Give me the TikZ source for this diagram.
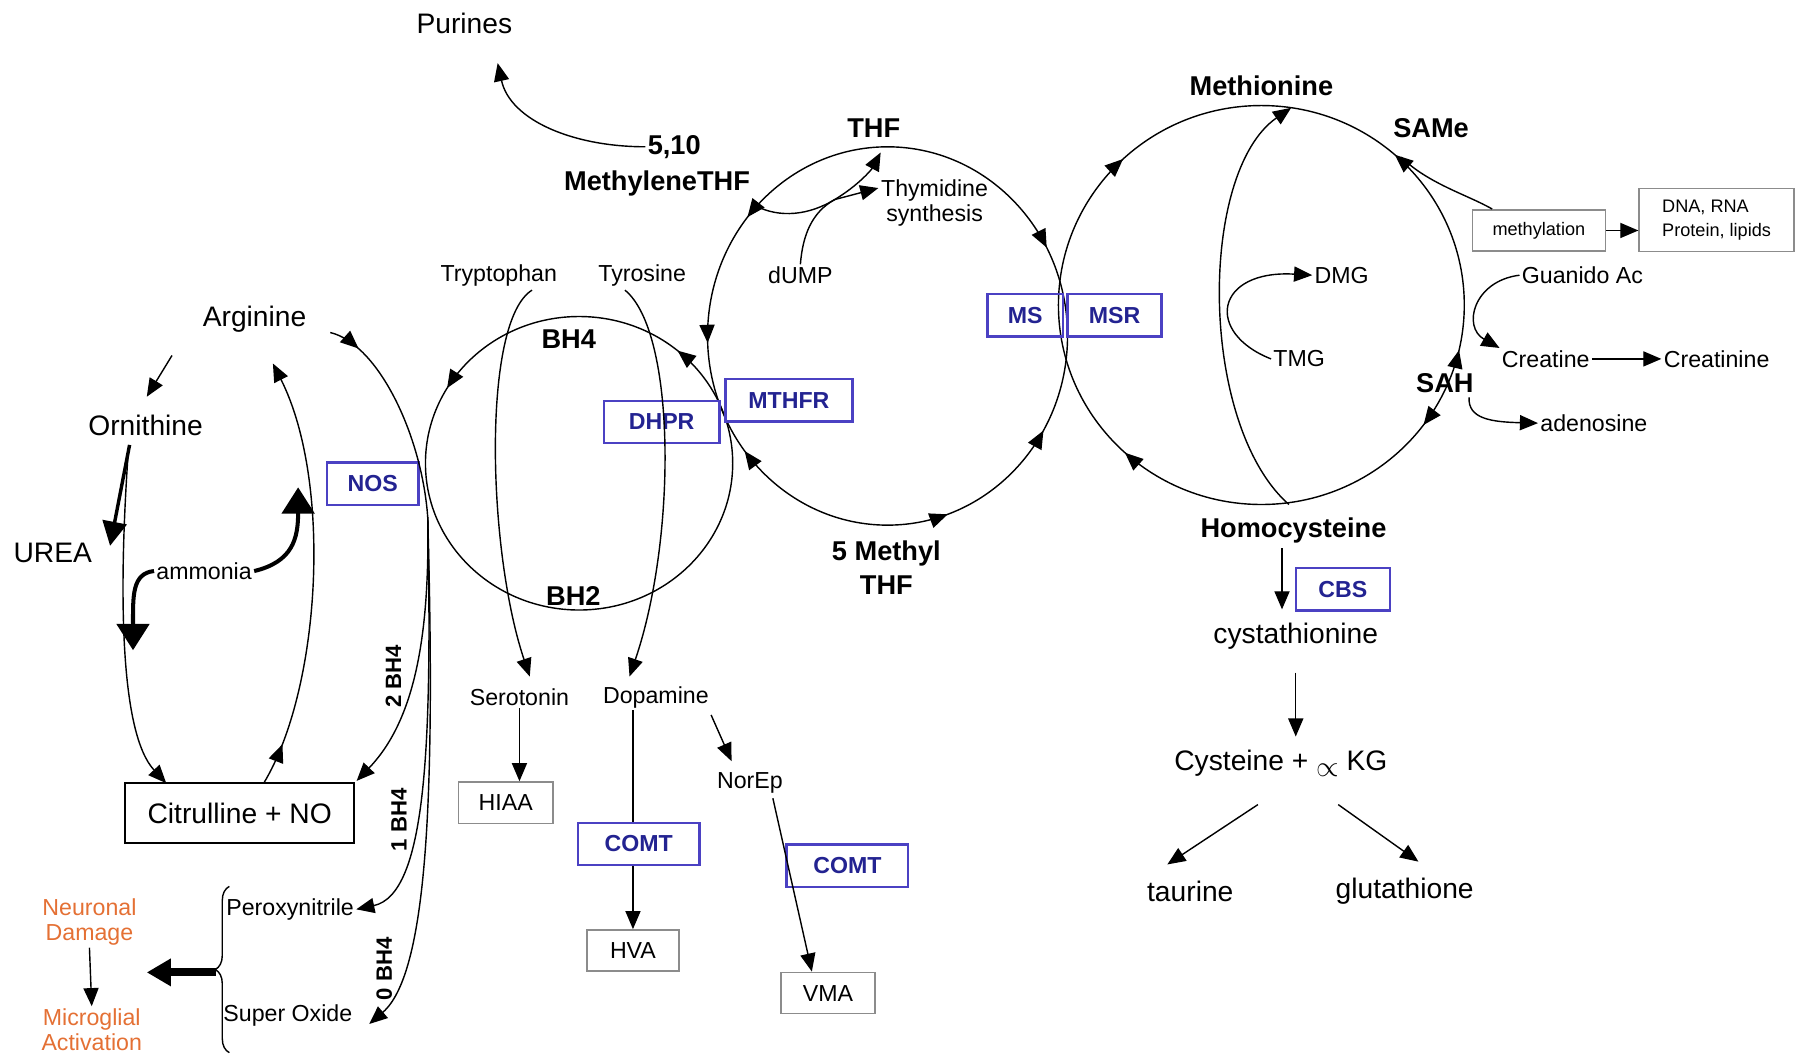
\documentclass[tikz,border=0pt]{standalone}
\usepackage{fontspec}
\setmainfont{Liberation Sans}
\usetikzlibrary{arrows.meta,positioning,calc,decorations.markings,decorations.pathreplacing}

\definecolor{enzblue}{RGB}{75,65,195}
\definecolor{enztext}{RGB}{35,35,145}
\definecolor{harmorange}{RGB}{228,112,52}
\definecolor{boxgray}{RGB}{140,140,140}

\tikzset{
  ctip/.tip={Triangle[length=9pt,width=7.5pt]},
  btip/.tip={Triangle[length=13pt,width=16pt]},
  flow/.style={line width=0.7pt,-ctip},
  thickflow/.style={line width=2pt,-btip},
  ring/.style={line width=0.7pt,postaction={decorate}},
  big/.style={font=\fontsize{14}{17}\selectfont,inner sep=1pt},
  med/.style={font=\fontsize{11.5}{12.5}\selectfont,inner sep=1pt,align=center},
  heavy/.style={font=\fontsize{13.5}{17}\selectfont\bfseries,inner sep=1pt,align=center},
  bhlabel/.style={font=\fontsize{11}{12}\selectfont\bfseries,inner sep=1pt,rotate=90},
  enzyme/.style={draw=enzblue,line width=1.2pt,text=enztext,font=\fontsize{11.5}{13}\selectfont\bfseries,minimum height=0.74cm,inner sep=0pt},
  prodbox/.style={draw=boxgray,line width=0.8pt,font=\fontsize{11.5}{13}\selectfont,minimum height=0.72cm,inner sep=0pt},
  harm/.style={med,text=harmorange},
}

\begin{document}
\begin{tikzpicture}[x=0.02cm,y=-0.02cm]
\useasboundingbox (0,0) rectangle (1568,922);

% the three cycles
\draw[ring,decoration={markings,
  mark=at position 0.079 with {\arrowreversed{ctip}},
  mark=at position 0.390 with {\arrow{ctip}},
  mark=at position 0.506 with {\arrow{ctip}},
  mark=at position 0.606 with {\arrowreversed{ctip}},
  mark=at position 0.803 with {\arrow{ctip}},
  mark=at position 0.915 with {\arrow{ctip}}}]
  (774,293) ellipse [x radius=3.14cm,y radius=3.3cm];
\draw[ring,decoration={markings,
  mark=at position 0.1375 with {\arrow{ctip}},
  mark=at position 0.416 with {\arrow{ctip}}}]
  (505,404) ellipse [x radius=2.68cm,y radius=2.56cm];
\draw[ring,decoration={markings,
  mark=at position 0.135 with {\arrow{ctip}},
  mark=at position 0.370 with {\arrowreversed{ctip}},
  mark=at position 0.632 with {\arrowreversed{ctip}},
  mark=at position 0.898 with {\arrowreversed{ctip}},
  mark=at position 0.964 with {\arrow{ctip}}}]
  (1100,266) ellipse [x radius=3.54cm,y radius=3.48cm];

\node[big] (purines) at (405,20) {Purines};
\node[heavy] (fiveten) at (588,128) {5,10};
\node[heavy] (methylene) at (573,160) {MethyleneTHF};
\node[heavy] (thf) at (762,112) {THF};
\node[med] (thymidine) at (815,177) {Thymidine\\synthesis};
\node[med] (dump) at (698,240) {dUMP};
\node[med] (tryptophan) at (435,240) {Tryptophan};
\node[med] (tyrosine) at (560,240) {Tyrosine};
\node[big] (arginine) at (222,278) {Arginine};
\node[big] (ornithine) at (127,371) {Ornithine};
\node[big] (urea) at (46,482) {UREA};
\node[med] (ammonia) at (178,498) {ammonia};
\node[heavy] (bhfour) at (496,296) {BH4};
\node[heavy] (bhtwo) at (500,520) {BH2};
\node[heavy] (methylthf) at (773,495) {5 Methyl\\THF};
\node[med] (serotonin) at (453,608) {Serotonin};
\node[med] (dopamine) at (572,608) {Dopamine};
\node[med] (norep) at (654,683) {NorEp};
\node[med] (peroxy) at (253,793) {Peroxynitrile};
\node[med] (superox) at (251,886) {Super Oxide};
\node[harm] (neuronal) at (78,804) {Neuronal\\Damage};
\node[harm] (microglial) at (80,898) {Microglial\\Activation};
\node[heavy] (methionine) at (1100,75) {Methionine};
\node[heavy] (same) at (1248,112) {SAMe};
\node[med] (dmg) at (1170,240) {DMG};
\node[med] (guanido) at (1380,240) {Guanido Ac};
\node[med] (tmg) at (1133,313) {TMG};
\node[med] (creatine) at (1348,313) {Creatine};
\node[med] (creatinine) at (1497,313) {Creatinine};
\node[heavy] (sah) at (1260,334) {SAH};
\node[med] (adenosine) at (1390,369) {adenosine};
\node[heavy] (homocys) at (1128,463) {Homocysteine};
\node[big] (cystathionine) at (1130,555) {cystathionine};
\node[big] (cysteine) at (1117,666) {Cysteine + \raisebox{-3pt}{$\propto$} KG};
\node[big] (taurine) at (1038,777) {taurine};
\node[big] (glutathione) at (1225,777) {glutathione};
\node[bhlabel] (twobh) at (343,590) {2 BH4};
\node[bhlabel] (onebh) at (348,715) {1 BH4};
\node[bhlabel] (zerobh) at (335,845) {0 BH4};

\node[enzyme,minimum width=1.6cm] (nos) at (325,422) {NOS};
\node[enzyme,minimum width=2.02cm] (dhpr) at (577,368) {DHPR};
\node[enzyme,minimum width=2.22cm] (mthfr) at (688,349) {MTHFR};
\node[enzyme,minimum width=1.32cm] (ms) at (894,275) {MS};
\node[enzyme,minimum width=1.64cm] (msr) at (972,275) {MSR};
\node[enzyme,minimum width=1.64cm] (cbs) at (1171,514) {CBS};
\node[enzyme,minimum width=2.12cm] (comtdop) at (557,736) {COMT};
\node[enzyme,minimum width=2.12cm] (comtnor) at (739,755) {COMT};
\node[prodbox,minimum width=1.64cm] (hiaa) at (441,700) {HIAA};
\node[prodbox,minimum width=1.6cm] (hva) at (552,829) {HVA};
\node[prodbox,minimum width=1.64cm] (vma) at (722,866) {VMA};
\node[prodbox,font=\fontsize{9}{12}\selectfont,minimum width=2.32cm] (methylation) at (1342,201) {methylation};
\node[prodbox,font=\fontsize{9}{12}\selectfont,align=left,minimum width=2.7cm,minimum height=1.1cm] (dnarna) at (1497,192) {DNA, RNA\\Protein, lipids};
\node[draw,line width=0.9pt,big,minimum width=4cm,minimum height=1.04cm] (citno) at (209,709) {Citrulline + NO};

\coordinate (purtip) at (434,55);
\coordinate (mtstart) at (660,180);
\coordinate (thyjoin) at (728,174);
\coordinate (thftip) at (768,133);
\coordinate (thytip) at (766,164);
\coordinate (trpstart) at (464,253);
\coordinate (tyrstart) at (545,253);
\coordinate (serotip) at (462,590);
\coordinate (dopatip) at (549,590);
\coordinate (argleft) at (150,310);
\coordinate (orntip) at (128,346);
\coordinate (ornfoot) at (113,388);
\coordinate (ureatip) at (96,476);
\coordinate (ornthin) at (112,392);
\coordinate (citleft) at (145,683);
\coordinate (citmid) at (230,683);
\coordinate (argtip) at (238,317);
\coordinate (ammdown) at (116,567);
\coordinate (ammup) at (260,425);
\coordinate (argright) at (288,290);
\coordinate (nosjoin) at (373,451);
\coordinate (citcorner) at (311,681);
\coordinate (supertip) at (322,893);
\coordinate (brtop) at (200,773);
\coordinate (brbot) at (200,918);
\coordinate (brtip) at (188,848);
\coordinate (harmtip) at (128,848);
\coordinate (hcyarc) at (1124,440);
\coordinate (metarc) at (1126,94);
\coordinate (samebranch) at (1222,137);

\draw[flow] (fiveten.west) .. controls (500,128) and (445,105) .. (purtip);
\draw[line width=.7pt] (mtstart) .. controls (680,190) and (705,188) .. (thyjoin);
\draw[flow] (thyjoin) .. controls (748,162) and (760,148) .. (thftip);
\draw[flow] (thyjoin) -- (thytip);
\draw[line width=.7pt] (dump.north) .. controls (700,205) and (708,185) .. (thyjoin);
\draw[flow] (trpstart) .. controls (420,280) and (425,480) .. (serotip);
\draw[flow] (tyrstart) .. controls (590,290) and (590,470) .. (dopatip);
\draw[flow] (serotonin.south) -- (serotonin.south |- hiaa.north);
\draw[line width=.7pt] (dopamine.south -| hva) -- (comtdop.north -| hva);
\draw[flow] (comtdop.south -| hva) -- (hva.north);
\draw[flow] ($(dopamine.south east)+(0,4)$) -- ($(norep.north)+(-16,-8)$);
\draw[flow] ($(norep.south)+(20,2)$) -- ($(vma.north)+(-14,0)$);

\draw[flow] (argleft) -- (orntip);
\draw[line width=1.7pt,-{Triangle[length=12pt,width=12pt]}] (ornfoot) -- (ureatip);
\draw[flow] (ornthin) .. controls (103,520) and (105,640) .. (citleft);
\draw[flow,postaction={decorate},decoration={markings,mark=at position 0.1 with {\arrow{ctip}}}] (citmid) .. controls (280,600) and (290,420) .. (argtip);
\draw[thickflow] (ammonia.west) .. controls (115,500) and (116,520) .. (ammdown);
\draw[thickflow] (ammonia.east) .. controls (255,490) and (260,470) .. (ammup);
\draw[ring,decoration={markings,mark=at position 0.15 with {\arrow{ctip}}}] (argright) .. controls (330,300) and (368,380) .. (nosjoin);
\draw[flow] (nosjoin) .. controls (375,560) and (360,630) .. (citcorner);
\draw[flow] (nosjoin) .. controls (377,650) and (372,780) .. (peroxy.east);
\draw[flow] (nosjoin) .. controls (380,700) and (372,850) .. (supertip);
\draw[line width=.7pt,decorate,decoration={brace,amplitude=7pt}] (brbot) -- (brtop);
\draw[line width=4pt,-{Triangle[length=12pt,width=13pt]}] (brtip) -- (harmtip);
\draw[flow] (neuronal.south) -- (microglial.north);

\draw[flow] (hcyarc) .. controls (1045,370) and (1045,150) .. (metarc);
\draw[line width=.7pt] (samebranch) .. controls (1245,160) and (1280,170) .. ($(methylation.north west)+(18,0)$);
\draw[flow] (methylation.east) -- (methylation.east -| dnarna.west);
\draw[flow] (tmg.west) .. controls (1050,290) and (1060,235) .. (dmg.west);
\draw[flow] (guanido.west) .. controls (1285,245) and (1275,285) .. (creatine.north west);
\draw[flow] (creatine.east) -- (creatinine.west);
\draw[flow] ($(sah.south east)+(-6,2)$) .. controls (1280,365) and (1300,368) .. (adenosine.west);
\draw[flow] ($(homocys.south)+(-10,2)$) -- ($(cystathionine.north)+(-12,-10)$);
\draw[flow] ($(cystathionine.south)+(0,18)$) -- ($(cystathionine.south |- cysteine.north)+(0,-10)$);
\draw[flow] ($(cysteine.south)+(-20,22)$) -- ($(taurine.north)+(-20,-12)$);
\draw[flow] ($(cysteine.south)+(50,22)$) -- ($(glutathione.north)+(12,-12)$);
\end{tikzpicture}
\end{document}
